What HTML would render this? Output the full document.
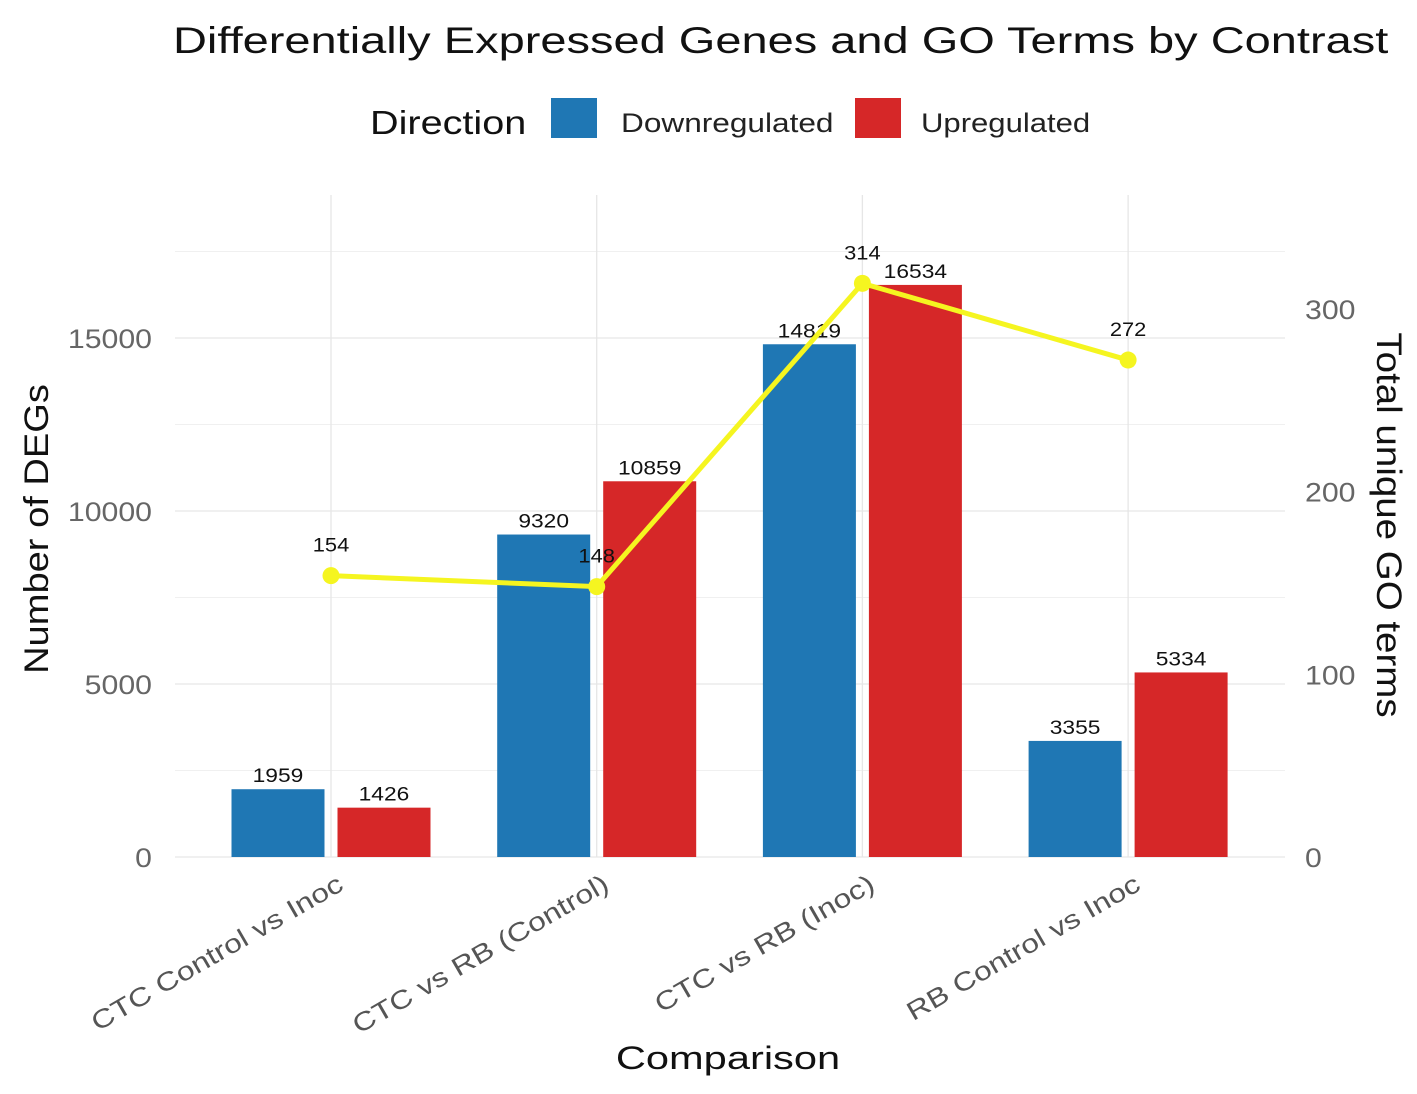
<!DOCTYPE html>
<html><head><meta charset="utf-8"><style>
body{margin:0;background:#fff;}
svg text{font-family:"Liberation Sans",sans-serif;}
</style></head><body>
<svg id="chart" width="1417" height="1089" xmlns="http://www.w3.org/2000/svg">
<text class="w" data-f="1.27" x="173" y="53" font-size="37" fill="#111">Differentially Expressed Genes and GO Terms by Contrast</text>
<g>
<text class="w" data-f="1.2" x="370" y="134" font-size="33" fill="#111">Direction</text>
<rect x="551" y="98" width="46" height="40" fill="#1f77b4"/>
<text class="w" data-f="1.17" x="621" y="132" font-size="27" fill="#222">Downregulated</text>
<rect x="855" y="98" width="46" height="40" fill="#d62728"/>
<text class="w" data-f="1.15" x="921" y="132" font-size="27" fill="#222">Upregulated</text>
</g>
<g id="grid"></g><g id="bars"></g><g id="line"></g><g id="axes"></g>
<text class="w" data-f="1.12" transform="translate(48,529) rotate(-90)" font-size="34" text-anchor="middle" fill="#111">Number of DEGs</text>
<text class="w" data-f="1.1" transform="translate(1377,525) rotate(90)" font-size="35" text-anchor="middle" fill="#111">Total unique GO terms</text>
<text class="w" data-f="1.3" x="728" y="1069" font-size="32" text-anchor="middle" fill="#111">Comparison</text>
</svg>
<script>
const categories=["CTC Control vs Inoc","CTC vs RB (Control)","CTC vs RB (Inoc)","RB Control vs Inoc"];
const downValues=[1959,9320,14819,3355];
const upValues=[1426,10859,16534,5334];
const goTerms=[154,148,314,272];
const yTicks=[0,5000,10000,15000];
const y2Ticks=[0,100,200,300];
const NS="http://www.w3.org/2000/svg";
const px0=175,px1=1285,pTop=195,pBot=857;
const catStep=265.7,cat0=331;
function xC(i){return cat0+i*catStep;}
function yL(v){return pBot-v*(519/15000);}
function yR(v){return pBot-v*1.827;}
function mk(tag,attrs,parent){const e=document.createElementNS(NS,tag);for(const k in attrs)e.setAttribute(k,attrs[k]);parent.appendChild(e);return e;}
const grid=document.getElementById('grid'),bars=document.getElementById('bars'),line=document.getElementById('line'),axes=document.getElementById('axes');
for(let v=0;v<=17500;v+=2500){const y=yL(v);if(y<pTop)break;const g=mk('line',{x1:px0,x2:px1,y1:y,y2:y,stroke:v%5000===0?'#e6e6e6':'#f0f0f0','stroke-width':v%5000===0?1.3:1},grid);

}
categories.forEach((c,i)=>{const g=mk('line',{x1:xC(i),x2:xC(i),y1:pTop,y2:pBot,stroke:'#e6e6e6','stroke-width':1.3},grid);

});
const bw=93,gap=13;
categories.forEach((c,i)=>{
 const series=[[downValues[i],'#1f77b4',xC(i)-gap/2-bw,'down'],[upValues[i],'#d62728',xC(i)+gap/2,'up']];
 series.forEach(([v,col,x,n])=>{
  const r=mk('rect',{x:x,y:yL(v),width:bw,height:pBot-yL(v),fill:col},bars);
  
  
  const t=mk('text',{x:x+bw/2,y:yL(v)-7,'font-size':19,'text-anchor':'middle',fill:'#111',class:'w','data-f':'1.2'},bars);t.textContent=v;
  
  
 });
 const ax=xC(i)+14,ay=pBot+32;
 const lt=mk('text',{x:ax,y:ay,'font-size':26,'text-anchor':'end',fill:'#555',class:'w','data-f':'1.22',transform:`rotate(-30 ${ax} ${ay})`},axes);lt.textContent=c;
 
 
});
const pts=goTerms.map((v,i)=>xC(i)+','+yR(v)).join(' ');
const pl=mk('polyline',{points:pts,fill:'none',stroke:'#f5f520','stroke-width':5},line);


goTerms.forEach((v,i)=>{
 const c=mk('circle',{cx:xC(i),cy:yR(v),r:8.5,fill:'#f5f520'},line);
 
 
 const t=mk('text',{x:xC(i),y:yR(v)-24,'font-size':19,'text-anchor':'middle',fill:'#111',class:'w','data-f':'1.15'},line);t.textContent=v;
 
 
});
yTicks.forEach(v=>{const t=mk('text',{x:152,y:yL(v)+10,'font-size':27,'text-anchor':'end',fill:'#666',class:'w','data-f':'1.12'},axes);t.textContent=v;
 
 });
y2Ticks.forEach(v=>{const t=mk('text',{x:1305,y:yR(v)+10,'font-size':27,'text-anchor':'start',fill:'#666',class:'w','data-f':'1.12'},axes);t.textContent=v;
 
 });
document.querySelectorAll('text.w').forEach(t=>{const f=parseFloat(t.getAttribute('data-f'));const L=t.getComputedTextLength();t.setAttribute('textLength',(L*f).toFixed(1));t.setAttribute('lengthAdjust','spacingAndGlyphs');});
</script>
</body></html>
